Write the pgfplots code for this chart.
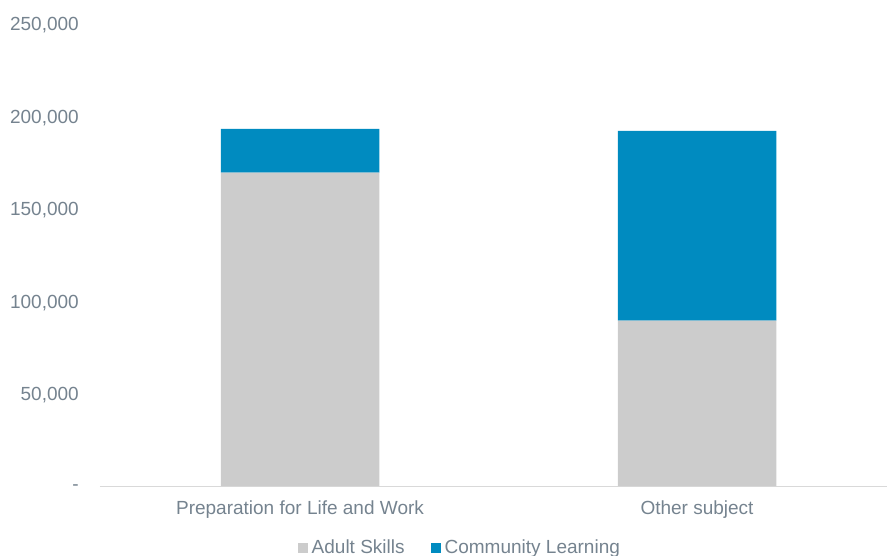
\documentclass[border=0pt]{standalone}
\usepackage{pgfplots}
\pgfplotsset{compat=1.18}
\usepackage{fontspec}
\setmainfont{Liberation Sans}
\definecolor{txtgrey}{HTML}{75838F}
\definecolor{barGrey}{HTML}{CCCCCC}
\definecolor{barBlue}{HTML}{008BC0}
\definecolor{axisGrey}{HTML}{D9D9D9}
\begin{document}
\fontsize{19bp}{23bp}\selectfont
\begin{tikzpicture}
\path[use as bounding box] (-100bp,-70bp) rectangle (787bp,486bp);
\begin{axis}[
  at={(0,0)}, anchor=south west,
  scale only axis,
  width=787bp, height=463bp,
  ybar stacked,
  bar width=158.5bp,
  xmin=-0.5038, xmax=1.4786,
  ymin=0, ymax=250000,
  scaled y ticks=false,
  axis y line*=left,
  axis x line*=bottom,
  x axis line style={draw=axisGrey, line width=1bp, -},
  y axis line style={draw=none, -},
  separate axis lines,
  xtick={0,1},
  xticklabels={Preparation for Life and Work, Other subject},
  ytick={0,50000,100000,150000,200000,250000},
  yticklabels={{-\hspace{9bp}},{50,000},{100,000},{150,000},{200,000},{250,000}},
  tick style={draw=none},
  ticklabel style={font=\fontsize{19bp}{23bp}\selectfont, text=txtgrey},
  yticklabel style={anchor=east, inner sep=0pt, xshift=-21bp, yshift=-2bp},
  xticklabel style={anchor=north, inner sep=0pt, yshift=-15bp},
  legend style={at={(axis description cs:0.2516,-0.134)}, anchor=west,
    draw=none, fill=none, font=\fontsize{19bp}{23bp}\selectfont, text=txtgrey,
    inner sep=0pt,
    nodes={inner xsep=3.5bp},
    /tikz/every even column/.append style={column sep=23bp}},
  legend columns=2,
  legend image code/.code={\fill[#1] (0bp,-5bp) rectangle (10bp,5bp);},
  legend cell align=left,
]
\addplot[fill=barGrey, draw=none] coordinates {(0,169200) (1,89300)};
\addlegendentry{Adult Skills}
\addplot[fill=barBlue, draw=none] coordinates {(0,23650) (1,102500)};
\addlegendentry{Community Learning}
\end{axis}
\end{tikzpicture}
\end{document}
